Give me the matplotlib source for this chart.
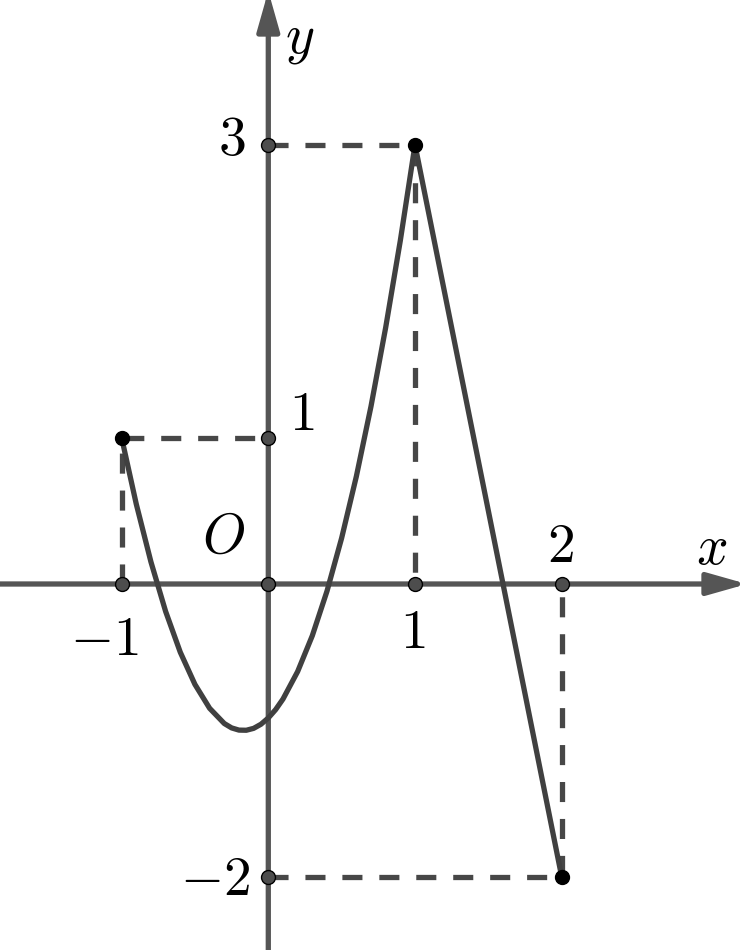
import matplotlib
matplotlib.use("Agg")
import matplotlib.pyplot as plt

plt.rcParams['mathtext.fontset'] = 'cm'
plt.rcParams['font.family'] = ['DejaVu Sans']

# ---- data ----
curve_x = [-1.0, -0.9, -0.8, -0.7, -0.6, -0.5, -0.4, -0.3, -0.25, -0.2, -0.15,
           -0.1, -0.05, 0.0, 0.05, 0.1, 0.2, 0.3, 0.4, 0.5, 0.6, 0.7, 0.8, 0.9, 1.0]
curve_y = [1.00, 0.546, 0.151, -0.187, -0.466, -0.686, -0.849, -0.953, -0.983,
           -0.998, -0.999, -0.986, -0.958, -0.915, -0.858, -0.786, -0.598, -0.353,
           -0.049, 0.314, 0.734, 1.213, 1.751, 2.346, 3.00]
seg_x = [1, 2]
seg_y = [3, -2]
end_x = [-1, 1, 2]
end_y = [1, 3, -2]
xtick_vals = [-1, 1, 2]
ytick_vals = [3, 1, -2]

# ---- style ----
W, H, DPI = 740, 950, 100
x0_px, y0_px = 268.3, 584.0
sx, sy = 146.7, 146.4
xmin, xmax = -x0_px / sx, (W - x0_px) / sx
ymax, ymin = y0_px / sy, -(H - y0_px) / sy

axis_col = '#555555'
curve_col = '#404040'
dash_col = '#474747'
lw = 3.8

fig = plt.figure(figsize=(W / DPI, H / DPI), dpi=DPI)
ax = fig.add_axes([0, 0, 1, 1])
ax.set_xlim(xmin, xmax)
ax.set_ylim(ymin, ymax)
ax.axis('off')

# axes with arrows
arrow_style = '-|>,head_length=2.4,head_width=0.68'
ax.annotate('', xy=(xmax + 7 / sx, 0), xytext=(xmin, 0), annotation_clip=False,
            arrowprops=dict(arrowstyle=arrow_style, color=axis_col, lw=lw,
                            shrinkA=0, shrinkB=0, mutation_scale=10), zorder=2)
ax.annotate('', xy=(0, ymax + 9 / sy), xytext=(0, ymin), annotation_clip=False,
            arrowprops=dict(arrowstyle=arrow_style, color=axis_col, lw=lw,
                            shrinkA=0, shrinkB=0, mutation_scale=10), zorder=2)

# dashed guides
for ex, ey in zip(end_x, end_y):
    if ex < 0:
        gx, gy = [ex, ex, 0], [0, ey, ey]
    else:
        gx, gy = [0, ex, ex], [ey, ey, 0]
    ax.plot(gx, gy, color=dash_col, lw=lw, linestyle=(0, (3.8, 3.2)),
            dash_capstyle='butt', zorder=3)

# curve
ax.plot(curve_x, curve_y, color=curve_col, lw=lw, solid_capstyle='round',
        solid_joinstyle='round', zorder=4)
ax.plot(seg_x, seg_y, color=curve_col, lw=lw, solid_capstyle='round', zorder=4)

# axis points
ax.plot(xtick_vals + [0], [0] * (len(xtick_vals) + 1), 'o', ms=10,
        mfc='#4d4d4d', mec='black', mew=1.0, zorder=5)
ax.plot([0] * len(ytick_vals), ytick_vals, 'o', ms=10,
        mfc='#4d4d4d', mec='black', mew=1.0, zorder=5)
# end points
ax.plot(end_x, end_y, 'o', ms=10, mfc='black', mec='black', zorder=6)

fs = 40
def lab(s, x, y, ha='center'):
    ax.text(x, y, s, fontsize=fs, ha=ha, va='center', color='black', zorder=7)

lab(r'$y$', 0.216, 3.72)
lab(r'$x$', 3.021, 0.24)
lab(r'$O$', -0.302, 0.314)
lab(r'$3$', -0.251, 3.036)
lab(r'$1$', 0.228, 1.151)
lab(r'$-2$', -0.363, -2.022)
lab(r'$-1$', -1.12, -0.383)
lab(r'$1$', 0.986, -0.335)
lab(r'$2$', 1.988, 0.256)

fig.savefig('out.png', dpi=DPI)
